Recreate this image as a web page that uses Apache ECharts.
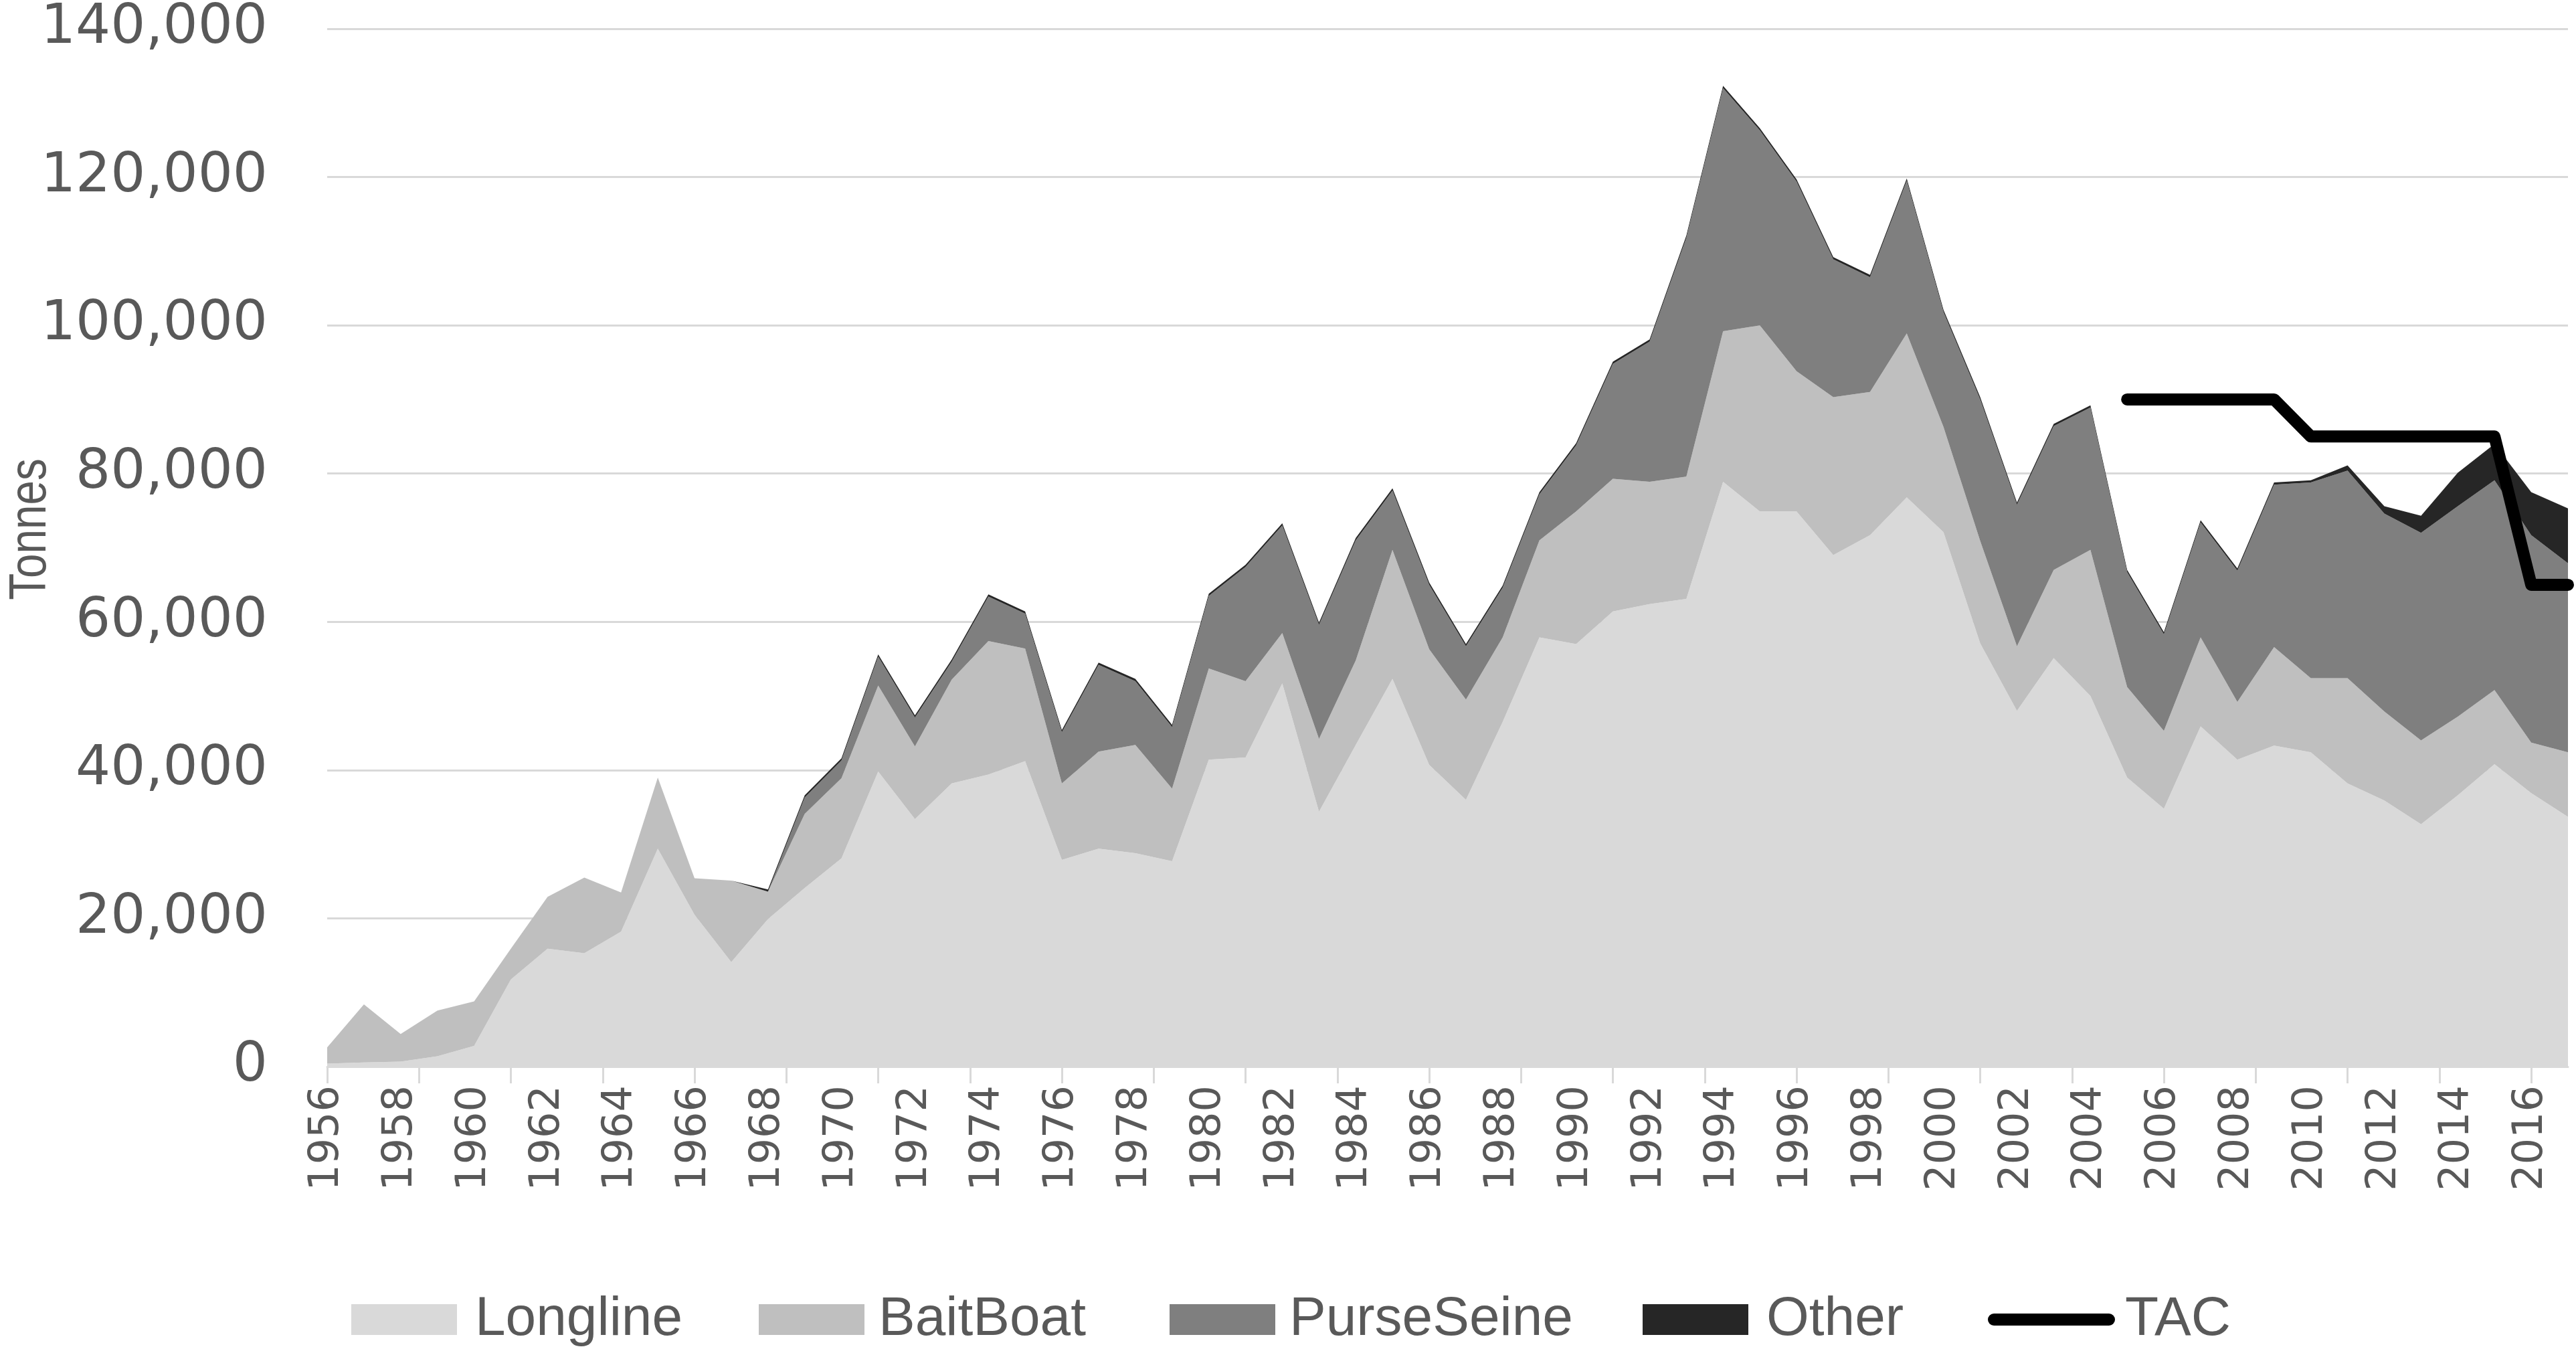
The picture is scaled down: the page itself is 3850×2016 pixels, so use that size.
<!DOCTYPE html>
<html>
<head>
<meta charset="utf-8">
<style>
html,body{margin:0;padding:0;background:#fff;}
#c{width:3850px;height:2016px;}
</style>
<script src="https://cdn.jsdelivr.net/npm/echarts@6/dist/echarts.min.js"></script>
</head>
<body>
<div id="c"></div>
<script>
var years = ['1956','1957','1958','1959','1960','1961','1962','1963','1964','1965',
  '1966','1967','1968','1969','1970','1971','1972','1973','1974','1975',
  '1976','1977','1978','1979','1980','1981','1982','1983','1984','1985',
  '1986','1987','1988','1989','1990','1991','1992','1993','1994','1995',
  '1996','1997','1998','1999','2000','2001','2002','2003','2004','2005',
  '2006','2007','2008','2009','2010','2011','2012','2013','2014','2015',
  '2016','2017'];

var longline = [400,560,670,1400,2800,11750,15900,15300,18200,29400,
  20500,14100,19900,24100,28100,39800,33400,38200,39400,41200,
  27900,29400,28800,27700,41400,41700,51700,34400,43400,52300,
  40700,36000,46500,57900,57000,61400,62400,63100,78900,74900,
  74900,69000,71700,76800,72100,57100,48000,55100,50000,39000,
  34800,45900,41400,43300,42400,38200,35900,32700,36600,40800,
  36900,33700];

var baitBoat = [2200,7840,3730,6150,6000,4150,7000,10200,5300,9600,
  4900,11000,3700,10000,10800,11600,9800,14000,18000,15200,
  10300,13100,14600,9800,12300,10300,6800,9800,11400,17400,
  15600,13500,11400,13100,17900,17900,16500,16500,20300,25100,
  18900,21300,19300,22100,14200,13800,8700,11900,19700,12200,
  10500,12000,7800,13300,10000,14200,12000,11300,10600,10000,
  6800,8700];

var purseSeine = [0,0,0,0,0,0,0,0,0,0,
  0,0,0,2200,2400,3900,3900,2400,6000,4700,
  6900,11700,8600,8300,9800,15400,14500,15400,16200,8000,
  8700,7200,6700,6200,8900,15500,18900,32200,32800,26300,
  25600,18600,15500,20600,15500,19100,19100,19400,19200,15500,
  13000,15500,17700,21900,26400,28000,26700,28000,28400,28300,
  28000,25500];

var other = [0,0,0,0,0,0,0,0,0,0,
  0,0,300,300,300,300,300,300,300,300,
  300,300,300,300,300,300,300,300,300,300,
  300,300,300,300,300,300,300,300,300,300,
  300,300,300,300,300,300,300,300,300,300,
  300,300,300,300,300,700,1000,2300,4500,4900,
  5800,7400];

var tac = [null,null,null,null,null,null,null,null,null,null,
  null,null,null,null,null,null,null,null,null,null,
  null,null,null,null,null,null,null,null,null,null,
  null,null,null,null,null,null,null,null,null,null,
  null,null,null,null,null,null,null,null,null,90000,
  90000,90000,90000,90000,85000,85000,85000,85000,85000,85000,
  65000,65000];

var yTicks = [0,20000,40000,60000,80000,100000,120000,140000];
var tickPositions = [0,2.5,5,7.5,10,12.5,15,17.5,20,22.5,25,27.5,30,32.5,35,37.5,40,42.5,45,47.5,50,52.5,55,57.5,60];

var GRID = '#d9d9d9';
var TXT = '#595959';
var SANS = '"Liberation Sans",Arial,sans-serif';
var WIDE = '"DejaVu Sans",Verdana,sans-serif';
var TAC_ICON = 'path://M9,0 L181,0 A9,9 0 0 1 181,18 L9,18 A9,9 0 0 1 9,0 Z';

function areaSeries(name, data, color) {
  return {
    name: name, type: 'line', stack: 'catch', data: data,
    symbol: 'none', showSymbol: false,
    lineStyle: {width: 0, color: color},
    itemStyle: {color: color},
    areaStyle: {color: color, opacity: 1},
    emphasis: {disabled: true},
    silent: true
  };
}

function legendFor(name, left, iconW, pad, icon) {
  return {
    data: [{name: name, icon: icon}],
    left: left, top: 1926,
    itemWidth: iconW, itemHeight: 46,
    textStyle: {fontFamily: SANS, fontSize: 82, color: TXT, padding: [0,0,0,pad]},
    selectedMode: false
  };
}

var chart = echarts.init(document.getElementById('c'), null, {renderer: 'canvas'});
chart.setOption({
  backgroundColor: '#ffffff',
  animation: false,
  grid: {left: 489, right: 12, top: 43, bottom: 422, containLabel: false},
  graphic: [{
    type: 'text', x: 46, y: 791, rotation: Math.PI / 2, scaleX: 0.84,
    silent: true,
    style: {text: 'Tonnes', fontFamily: SANS, fontSize: 78, fill: TXT, align: 'center', verticalAlign: 'middle'}
  }],
  legend: [
    legendFor('Longline', 520, 158, 22, 'rect'),
    legendFor('BaitBoat', 1129, 158, 16, 'rect'),
    legendFor('PurseSeine', 1743, 158, 16, 'rect'),
    legendFor('Other', 2450, 158, 22, 'rect'),
    legendFor('TAC', 2966, 190, 10, TAC_ICON)
  ],
  xAxis: [
    {
      type: 'category', data: years, boundaryGap: false,
      axisLine: {show: true, lineStyle: {color: GRID, width: 3}},
      axisTick: {show: false},
      axisLabel: {interval: 1, rotate: 90, margin: 28, fontFamily: WIDE, fontSize: 62, color: TXT},
      splitLine: {show: false}
    },
    {
      type: 'value', min: 0, max: 61, position: 'bottom',
      axisLine: {show: false},
      axisTick: {show: true, length: 25, lineStyle: {color: GRID, width: 3}, customValues: tickPositions},
      axisLabel: {show: false},
      splitLine: {show: false}
    }
  ],
  yAxis: {
    type: 'value', min: 0, max: 140000, interval: 20000,
    axisLine: {show: false}, axisTick: {show: false},
    axisLabel: {
      margin: 89, fontFamily: WIDE, fontSize: 82, color: TXT,
      customValues: yTicks,
      formatter: function (v) { return v.toLocaleString('en-US'); }
    },
    splitLine: {show: true, lineStyle: {color: GRID, width: 3}}
  },
  series: [
    areaSeries('Longline', longline, '#d9d9d9'),
    areaSeries('BaitBoat', baitBoat, '#bfbfbf'),
    areaSeries('PurseSeine', purseSeine, '#7f7f7f'),
    areaSeries('Other', other, '#262626'),
    {
      name: 'TAC', type: 'line', data: tac, symbol: 'none', showSymbol: false,
      connectNulls: false, z: 5,
      lineStyle: {color: '#000000', width: 18, cap: 'round', join: 'round'},
      itemStyle: {color: '#000000'},
      emphasis: {disabled: true}, silent: true
    }
  ]
});
</script>
</body>
</html>
